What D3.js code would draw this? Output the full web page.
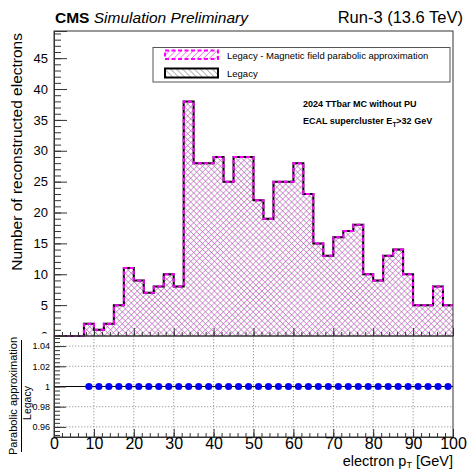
<!DOCTYPE html>
<html>
<head>
<meta charset="utf-8">
<script src="https://cdn.jsdelivr.net/npm/d3@7"></script>
<style>
  body { margin: 0; background: #fff; }
  svg { font-family: "Liberation Sans", Arial, Helvetica, sans-serif; }
</style>
</head>
<body>
<div id="chart"></div>
<script>
// bin lower edges (GeV), bin width 2.5
const binLow = [0, 2.5, 5, 7.5, 10, 12.5, 15, 17.5, 20, 22.5, 25, 27.5, 30, 32.5, 35, 37.5,
  40, 42.5, 45, 47.5, 50, 52.5, 55, 57.5, 60, 62.5, 65, 67.5, 70, 72.5, 75, 77.5,
  80, 82.5, 85, 87.5, 90, 92.5, 95, 97.5];
const binWidth = 2.5;
const legacyCounts = [0, 0, 0, 2, 1, 2, 5, 11, 9, 7, 8, 10, 8, 38, 28, 28,
  29, 25, 29, 29, 22, 19, 25, 25, 28, 23, 15, 13, 16, 17, 18, 10,
  9, 13, 14, 10, 5, 5, 8, 5];
const parabolicCounts = [0, 0, 0, 2, 1, 2, 5, 11, 9, 7, 8, 10, 8, 38, 28, 28,
  29, 25, 29, 29, 22, 19, 25, 25, 28, 23, 15, 13, 16, 17, 18, 10,
  9, 13, 14, 10, 5, 5, 8, 5];
const xTicks = [0, 10, 20, 30, 40, 50, 60, 70, 80, 90, 100];
const yTicks = [0, 5, 10, 15, 20, 25, 30, 35, 40, 45];
const ratioTicks = [0.96, 0.98, 1, 1.02, 1.04];
const ratioTickLabels = ["0.96", "0.98", "1", "1.02", "1.04"];
const legendLabels = ["Legacy - Magnetic field parabolic approximation", "Legacy"];

const W = 467, H = 469;
const svg = d3.select("#chart").append("svg").attr("width", W).attr("height", H);
const defs = svg.append("defs");

function hatch(id, color, angle, sw) {
  const p = defs.append("pattern").attr("id", id)
    .attr("patternUnits", "userSpaceOnUse")
    .attr("width", 4.2).attr("height", 4.2)
    .attr("patternTransform", "rotate(" + angle + ")");
  p.append("line").attr("x1", 0).attr("y1", 0).attr("x2", 0).attr("y2", 4.2)
    .attr("stroke", color).attr("stroke-width", sw);
}
hatch("hMag", "#e040e0", 45, 1.1);
hatch("hBlk", "#222", -45, 0.65);

const x = d3.scaleLinear().domain([0, 100]).range([54, 453]);
const y = d3.scaleLinear().domain([0, 49.4]).range([336, 31]);
const yr = d3.scaleLinear().domain([0.95, 1.05]).range([437, 336]);

// ---------- upper pad ----------
function stepPts(counts) {
  const pts = binLow.map((b, i) => [b, counts[i]]);
  pts.push([binLow[binLow.length - 1] + binWidth, counts[counts.length - 1]]);
  return pts;
}
const area = d3.area().curve(d3.curveStepAfter)
  .x(d => x(d[0])).y0(y(0)).y1(d => y(d[1]));
const line = d3.line().curve(d3.curveStepAfter)
  .x(d => x(d[0])).y(d => y(d[1]));

const up = svg.append("g");
up.append("path").attr("d", area(stepPts(legacyCounts))).attr("fill", "url(#hBlk)");
up.append("path").attr("d", area(stepPts(parabolicCounts))).attr("fill", "url(#hMag)");
up.append("path").attr("d", line(stepPts(legacyCounts)))
  .attr("fill", "none").attr("stroke", "#000").attr("stroke-width", 2);
up.append("path").attr("d", line(stepPts(parabolicCounts)))
  .attr("fill", "none").attr("stroke", "#ff00ff").attr("stroke-width", 2)
  .attr("stroke-dasharray", "4,2.5");

// frame
up.append("rect").attr("x", 54).attr("y", 31).attr("width", 399).attr("height", 305)
  .attr("fill", "none").attr("stroke", "#333").attr("stroke-width", 1);

// y axis of upper pad (the "0" label is cut by the pad edge, as in the original)
const yAxis = d3.axisLeft(y).tickValues(yTicks).tickSize(-13).tickFormat(d3.format("d"));
const yMinor = d3.axisLeft(y).tickValues(d3.range(0, 50, 1)).tickSize(-7).tickFormat("");
svg.append("clipPath").attr("id", "upClip").append("rect")
  .attr("x", -60).attr("y", 0).attr("width", W).attr("height", 333.5);
const gy = svg.append("g").attr("transform", "translate(54,0)").attr("clip-path", "url(#upClip)");
gy.append("g").call(yMinor);
gy.append("g").call(yAxis);
gy.selectAll("path.domain").attr("stroke", "#333");
gy.selectAll(".tick line").attr("stroke", "#333");
gy.selectAll(".tick text").attr("x", -6).attr("font-size", 13)
  .attr("font-family", "Liberation Sans, Arial, sans-serif").attr("fill", "#000");

// x ticks on upper pad (no labels)
const gxu = svg.append("g").attr("transform", "translate(0,336)");
gxu.append("g").call(d3.axisBottom(x).tickValues(d3.range(0, 101, 2)).tickSize(-4).tickFormat(""));
gxu.append("g").call(d3.axisBottom(x).tickValues(xTicks).tickSize(-8).tickFormat(""));
gxu.selectAll("path.domain").remove();
gxu.selectAll(".tick line").attr("stroke", "#333");

svg.append("text").attr("transform", "translate(22,33) rotate(-90)")
  .attr("text-anchor", "end").attr("font-size", 15.5).text("Number of reconstructed electrons");

// header
const hdr = svg.append("text").attr("x", 55).attr("y", 23).attr("font-size", 15.5);
hdr.append("tspan").attr("font-weight", "bold").text("CMS");
hdr.append("tspan").attr("font-style", "italic").text(" Simulation Preliminary");
svg.append("text").attr("x", 463).attr("y", 23).attr("text-anchor", "end")
  .attr("font-size", 16.5).text("Run-3 (13.6 TeV)");

// legend
const lg = svg.append("g");
lg.append("rect").attr("x", 153).attr("y", 47.5).attr("width", 297).attr("height", 34.5)
  .attr("fill", "#fff").attr("stroke", "#555").attr("stroke-width", 1);
lg.append("rect").attr("x", 165).attr("y", 50.5).attr("width", 53).attr("height", 8.5)
  .attr("fill", "url(#hMag)").attr("stroke", "#ff00ff").attr("stroke-width", 2)
  .attr("stroke-dasharray", "4,2.5");
lg.append("rect").attr("x", 165).attr("y", 68.5).attr("width", 53).attr("height", 9)
  .attr("fill", "url(#hBlk)").attr("stroke", "#000").attr("stroke-width", 2);
lg.selectAll("text.lab").data(legendLabels).enter().append("text")
  .attr("x", 227).attr("y", (d, i) => 59 + i * 17.5).attr("font-size", 9.5).text(d => d);

// annotations
svg.append("text").attr("x", 303).attr("y", 107).attr("font-size", 9).attr("font-weight", "bold")
  .text("2024 TTbar MC without PU");
const ann = svg.append("text").attr("x", 303).attr("y", 124).attr("font-size", 9).attr("font-weight", "bold");
ann.append("tspan").text("ECAL supercluster E");
ann.append("tspan").attr("dy", 3).attr("font-size", 6.5).text("T");
ann.append("tspan").attr("dy", -3).text(">32 GeV");

// ---------- ratio pad ----------
const lo = svg.append("g");
// grid
lo.selectAll("line.gx").data(xTicks.slice(1, -1)).enter().append("line")
  .attr("x1", d => x(d)).attr("x2", d => x(d)).attr("y1", 336).attr("y2", 437)
  .attr("stroke", "#888").attr("stroke-dasharray", "1.3,1.7").attr("stroke-width", 0.8);
lo.selectAll("line.gy").data(ratioTicks.filter(d => d !== 1)).enter().append("line")
  .attr("x1", 54).attr("x2", 453).attr("y1", d => yr(d)).attr("y2", d => yr(d))
  .attr("stroke", "#888").attr("stroke-dasharray", "1.3,1.7").attr("stroke-width", 0.8);
lo.append("line").attr("x1", x(0)).attr("x2", x(100)).attr("y1", yr(1)).attr("y2", yr(1))
  .attr("stroke", "#000").attr("stroke-width", 1);
lo.append("rect").attr("x", 54).attr("y", 336).attr("width", 399).attr("height", 101)
  .attr("fill", "none").attr("stroke", "#333").attr("stroke-width", 1);

const ratioPts = binLow.map((b, i) => ({ x: b + binWidth / 2, r: legacyCounts[i] ? parabolicCounts[i] / legacyCounts[i] : null }))
  .filter(d => d.r !== null);
lo.selectAll("circle").data(ratioPts).enter().append("circle")
  .attr("cx", d => x(d.x)).attr("cy", d => yr(d.r)).attr("r", 3.6).attr("fill", "#0000ff");

const gyr = svg.append("g").attr("transform", "translate(54,0)");
gyr.append("g").call(d3.axisLeft(yr).tickValues(d3.range(0.952, 1.05, 0.004)).tickSize(-6).tickFormat(""));
gyr.append("g").call(d3.axisLeft(yr).tickValues(ratioTicks).tickSize(-12)
  .tickFormat((d, i) => ratioTickLabels[i]));
gyr.selectAll("path.domain").attr("stroke", "#333");
gyr.selectAll(".tick line").attr("stroke", "#333");
gyr.selectAll(".tick text").attr("x", -4).attr("font-size", 9)
  .attr("font-family", "Liberation Sans, Arial, sans-serif").attr("fill", "#000");

const gxl = svg.append("g").attr("transform", "translate(0,437)");
gxl.append("g").call(d3.axisBottom(x).tickValues(d3.range(0, 101, 2)).tickSize(-4).tickFormat(""));
gxl.append("g").call(d3.axisBottom(x).tickValues(xTicks).tickSize(-8).tickFormat(d3.format("d")));
gxl.selectAll("path.domain").attr("stroke", "#333");
gxl.selectAll(".tick line").attr("stroke", "#333");
gxl.selectAll(".tick text").attr("y", 1).attr("font-size", 16)
  .attr("font-family", "Liberation Sans, Arial, sans-serif").attr("fill", "#000");

const xt = svg.append("text").attr("x", 453).attr("y", 465.5).attr("text-anchor", "end").attr("font-size", 14.5);
xt.append("tspan").text("electron p");
xt.append("tspan").attr("dy", 2.5).attr("font-size", 9).text("T");
xt.append("tspan").attr("dy", -2.5).text(" [GeV]");

// ratio y title as a fraction
svg.append("text").attr("transform", "translate(16.5,396) rotate(-90)").attr("text-anchor", "middle")
  .attr("font-size", 11).text("Parabolic approximation");
svg.append("line").attr("x1", 21.5).attr("x2", 21.5).attr("y1", 340).attr("y2", 452)
  .attr("stroke", "#000").attr("stroke-width", 1);
svg.append("text").attr("transform", "translate(30.5,403) rotate(-90)").attr("text-anchor", "middle")
  .attr("font-size", 10.5).text("Legacy");
</script>
</body>
</html>
